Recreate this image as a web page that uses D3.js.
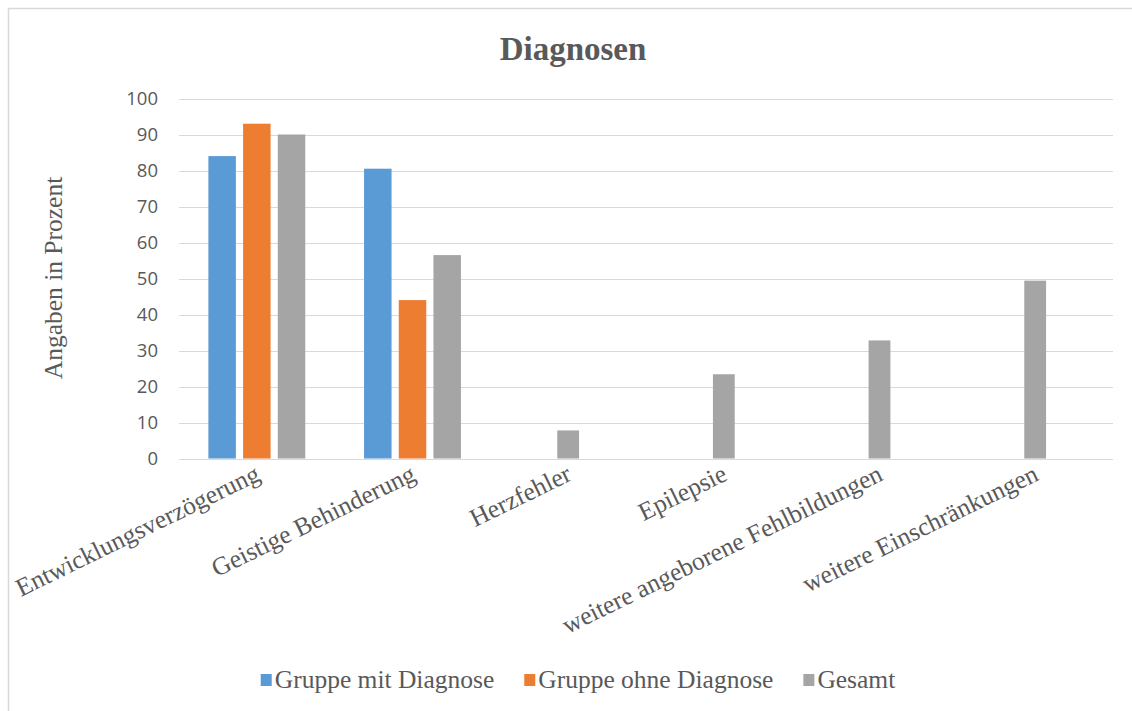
<!DOCTYPE html>
<html>
<head>
<meta charset="utf-8">
<script src="https://cdn.jsdelivr.net/npm/d3@7/dist/d3.min.js"></script>
<style>
  html, body { margin: 0; padding: 0; background: #ffffff; }
  svg { display: block; }
</style>
</head>
<body>
<svg id="chart" width="1132" height="711"></svg>
<script>
// Diagnoses, in percent, for each group
const categories = [
  "Entwicklungsverzögerung",
  "Geistige Behinderung",
  "Herzfehler",
  "Epilepsie",
  "weitere angeborene Fehlbildungen",
  "weitere Einschränkungen"
];
const seriesNames = ["Gruppe mit Diagnose", "Gruppe ohne Diagnose", "Gesamt"];
const mitDiagnose  = [84, 80.5, null, null, null, null];
const ohneDiagnose = [93, 44, null, null, null, null];
const gesamt       = [90, 56.5, 7.8, 23.4, 32.8, 49.4];
const yTicks = [0, 10, 20, 30, 40, 50, 60, 70, 80, 90, 100];
const colors = ["#5B9BD5", "#ED7D31", "#A5A5A5"];

const seriesValues = [mitDiagnose, ohneDiagnose, gesamt];

const svg = d3.select("#chart");
const W = 1132, H = 711;
const margin = { left: 179, right: 19, top: 98.5, bottom: 252.5 };

const serif = "'Liberation Serif', 'Times New Roman', serif";
const sans = "'Open Sans', 'Liberation Sans', sans-serif";
const textGray = "#595959";

// chart frame
svg.append("rect")
  .attr("x", 8.5).attr("y", 8.5)
  .attr("width", W + 20).attr("height", H + 20)
  .attr("fill", "#fff")
  .attr("stroke", "#D9D9D9")
  .attr("stroke-width", 1.5);

const x = d3.scaleBand()
  .domain(categories)
  .range([margin.left, W - margin.right])
  .paddingInner(0).paddingOuter(0);

const y = d3.scaleLinear()
  .domain([0, 100])
  .range([H - margin.bottom, margin.top]);

// gridlines
svg.append("g")
  .selectAll("line")
  .data(yTicks)
  .join("line")
  .attr("x1", margin.left)
  .attr("x2", W - margin.right)
  .attr("y1", d => Math.round(y(d)) + 0.5)
  .attr("y2", d => Math.round(y(d)) + 0.5)
  .attr("stroke", "#D9D9D9")
  .attr("stroke-width", 1);

// y axis labels
const yAxis = d3.axisLeft(y).tickValues(yTicks).tickSize(0).tickPadding(21);
const yg = svg.append("g")
  .attr("transform", `translate(${margin.left},0)`)
  .call(yAxis);
yg.select(".domain").remove();
yg.selectAll("text")
  .attr("font-family", sans)
  .attr("font-size", 18.5)
  .attr("fill", textGray);

// bars: each category lays out only the series that have a value
const barStep = x.bandwidth() * 0.2229;
const barGap = barStep * 0.2075;

const groups = svg.append("g")
  .selectAll("g")
  .data(categories.map((c, i) => ({
    cat: c,
    items: seriesNames
      .map((s, k) => ({ series: s, k, value: seriesValues[k][i] }))
      .filter(d => d.value != null)
  })))
  .join("g");

groups.each(function(g) {
  const c = x(g.cat) + x.bandwidth() / 2;
  const n = g.items.length;
  const L = n * barStep - barGap;
  const inner = d3.scaleBand()
    .domain(g.items.map(d => d.series))
    .range([c - L / 2, c + L / 2])
    .paddingInner(barGap / barStep)
    .paddingOuter(0);
  d3.select(this).selectAll("rect")
    .data(g.items)
    .join("rect")
    .attr("x", d => inner(d.series))
    .attr("width", inner.bandwidth())
    .attr("y", d => y(d.value))
    .attr("height", d => y(0) - y(d.value))
    .attr("fill", d => colors[d.k]);
});

// category labels, rotated
svg.append("g")
  .selectAll("text")
  .data(categories)
  .join("text")
  .attr("transform", d => `translate(${x(d) + x.bandwidth() / 2 - 3},${y(0) + 5}) rotate(-26)`)
  .attr("text-anchor", "end")
  .attr("dy", "0.7em")
  .attr("font-family", serif)
  .attr("font-size", 25.5)
  .attr("fill", textGray)
  .text(d => d);

// title
svg.append("text")
  .attr("x", 573)
  .attr("y", 60)
  .attr("text-anchor", "middle")
  .attr("font-family", serif)
  .attr("font-weight", "bold")
  .attr("font-size", 33)
  .attr("fill", textGray)
  .text("Diagnosen");

// y axis title
svg.append("text")
  .attr("transform", "translate(62,278) rotate(-90)")
  .attr("text-anchor", "middle")
  .attr("font-family", serif)
  .attr("font-size", 25.5)
  .attr("fill", textGray)
  .text("Angaben in Prozent");

// legend
const legend = svg.append("g");
const items = legend.selectAll("g")
  .data(seriesNames)
  .join("g");
items.append("rect")
  .attr("width", 11).attr("height", 12)
  .attr("y", -14)
  .attr("fill", (d, i) => colors[i]);
items.append("text")
  .attr("x", 14)
  .attr("font-family", serif)
  .attr("font-size", 25.5)
  .attr("fill", textGray)
  .text(d => d);

const widths = [];
items.each(function() {
  widths.push(14 + d3.select(this).select("text").node().getComputedTextLength());
});
const legendGap = 30;
const total = d3.sum(widths) + legendGap * (widths.length - 1);
let cx = 578 - total / 2;
items.each(function(d, i) {
  d3.select(this).attr("transform", `translate(${cx},688)`);
  cx += widths[i] + legendGap;
});
</script>
</body>
</html>
